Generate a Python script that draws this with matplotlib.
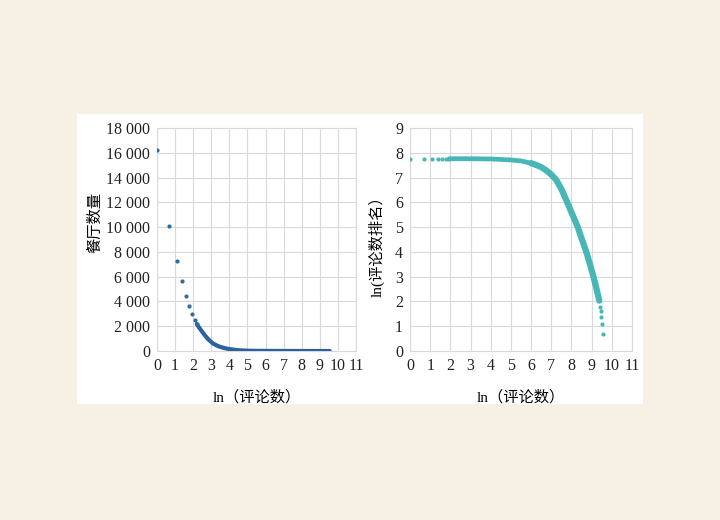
import matplotlib
matplotlib.use("Agg")
import matplotlib.pyplot as plt
from matplotlib.patches import Rectangle

plt.rcParams['font.family'] = ['Liberation Serif', 'Noto Sans CJK SC']

# left panel: restaurant count vs ln(review count)
cnt_x = [0, 0.69, 1.10, 1.39, 1.61, 1.79, 1.95, 2.08, 2.20]
cnt_y = [16200, 10100, 7250, 5650, 4450, 3620, 3000, 2530, 2180]
cnt_band_x = [2.20, 2.3, 2.4, 2.5, 2.6, 2.75, 2.9, 3.1, 3.3, 3.5, 3.7, 3.9,
              4.2, 4.5, 5.0, 5.5, 6.0, 7.0, 8.0, 9.0, 9.55]
cnt_band_y = [2180, 1950, 1750, 1550, 1350, 1080, 850, 600, 450, 330, 250, 180,
              110, 60, 25, 12, 8, 3, 1, 0, 0]

# right panel: ln(rank) vs ln(review count)
rank_x = [0, 0.69, 1.10, 1.39, 1.61, 1.79, 1.95]
rank_y = [7.76, 7.76, 7.76, 7.76, 7.76, 7.76, 7.76]
rank_flat_x = [1.95, 3.0, 4.0, 5.0, 5.5, 6.0]
rank_flat_y = [7.76, 7.76, 7.75, 7.71, 7.67, 7.58]
rank_drop_x = [6.0, 6.25, 6.5, 6.75, 7.0, 7.25, 7.5, 7.77, 8.05, 8.3,
               8.52, 8.72, 8.9, 9.08, 9.23, 9.38]
rank_drop_y = [7.58, 7.51, 7.42, 7.29, 7.12, 6.9, 6.54, 6.04, 5.5, 5.03,
               4.5, 4.04, 3.55, 3.03, 2.55, 2.03]
tail_x = [9.43, 9.45, 9.48, 9.52, 9.56]
tail_y = [1.79, 1.61, 1.39, 1.10, 0.69]

xticks = list(range(0, 12))
left_yticks = list(range(0, 18001, 2000))
left_ylabels = ['0', '2 000', '4 000', '6 000', '8 000', '10 000', '12 000',
                '14 000', '16 000', '18 000']
right_yticks = list(range(0, 10))

grid_c = '#d9d9d9'
teal = '#47b6b6'
fig = plt.figure(figsize=(7.2, 5.2), dpi=100, facecolor='#f6f1e4')
fig.patches.append(Rectangle((77 / 720, 1 - 404 / 520), 566 / 720, 290 / 520,
                             transform=fig.transFigure, facecolor='white',
                             edgecolor='none', zorder=-10))

ax1 = fig.add_axes([157 / 720, 1 - 351 / 520, 199 / 720, 223 / 520])
ax2 = fig.add_axes([410 / 720, 1 - 351 / 520, 222 / 720, 223 / 520])

ax1.plot(cnt_band_x, cnt_band_y, '-', color='#2a629d', lw=3.0,
         solid_capstyle='round', zorder=3)
ax1.plot(cnt_x, cnt_y, 'o', color='#2e6ca6', ms=3.0, mec='none', zorder=3)
ax1.set_xlim(0, 11)
ax1.set_ylim(0, 18000)
ax1.set_yticks(left_yticks)
ax1.set_yticklabels(left_ylabels)
ax1.set_ylabel('餐厅数量', fontsize=11)
ax1.yaxis.set_label_coords(-0.276, 0.578)

ax2.plot(rank_flat_x, rank_flat_y, '-', color=teal, lw=3.4,
         solid_capstyle='round', zorder=3)
ax2.plot(rank_drop_x, rank_drop_y, '-', color=teal, lw=4.5,
         solid_capstyle='round', solid_joinstyle='round', zorder=3)
ax2.plot(rank_x + tail_x, rank_y + tail_y, 'o', color=teal, ms=3.0,
         mec='none', zorder=3)
ax2.set_xlim(0, 11)
ax2.set_ylim(0, 9)
ax2.set_yticks(right_yticks)
ax2.set_ylabel('ln(评论数排名）', fontsize=11)
ax2.yaxis.set_label_coords(-0.113, 0.484)

for ax in (ax1, ax2):
    ax.set_facecolor('white')
    ax.set_xticks(xticks)
    ax.grid(True, color=grid_c, lw=0.8)
    ax.set_axisbelow(True)
    for s in ax.spines.values():
        s.set_color(grid_c)
        s.set_linewidth(0.8)
    ax.tick_params(length=0, pad=5, labelsize=11.5, colors='#222222')
    ax.set_xlabel('ln（评论数）', fontsize=11)
    ax.xaxis.set_label_coords(0.5, -0.175)

fig.savefig('out.png', dpi=100, facecolor=fig.get_facecolor())
